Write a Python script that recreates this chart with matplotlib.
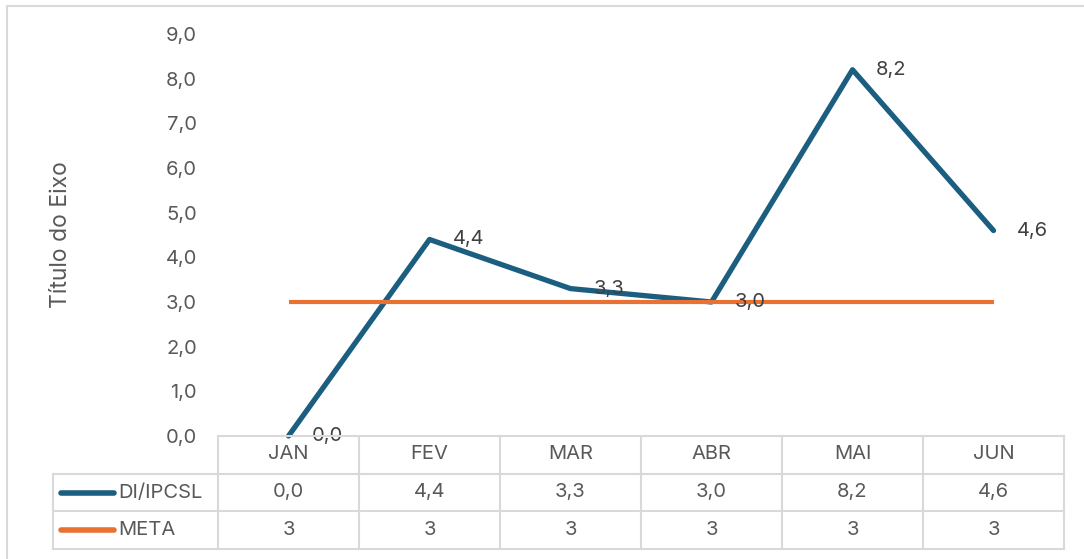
import matplotlib.pyplot as plt
from matplotlib.patches import Rectangle

plt.rcParams["font.family"] = ["Inter", "DejaVu Sans"]

months = ["JAN", "FEV", "MAR", "ABR", "MAI", "JUN"]
di_ipcsl = [0.0, 4.4, 3.3, 3.0, 8.2, 4.6]
meta = [3, 3, 3, 3, 3, 3]
series_names = ["DI/IPCSL", "META"]
y_ticks = [0, 1, 2, 3, 4, 5, 6, 7, 8, 9]

BLUE = "#1B5E80"
ORANGE = "#E97132"
TEXT = "#595959"
GRID = "#D9D9D9"
FS = 14.5

W, H = 1084, 559
fig = plt.figure(figsize=(W / 100, H / 100), dpi=100)


def px_axes(x0, y0, x1, y1):
    # pixel box (from top-left) -> figure axes
    return fig.add_axes([x0 / W, 1 - y1 / H, (x1 - x0) / W, (y1 - y0) / H])


# outer chart border (top + left visible)
fig.patches.append(Rectangle((7 / W, -0.1), 1.2, 1 - 6 / H + 0.1,
                             transform=fig.transFigure, fill=False,
                             edgecolor=GRID, linewidth=1.5))

ax = px_axes(218, 34, 1064, 436)
x = list(range(len(months)))
ax.plot(x, di_ipcsl, color=BLUE, linewidth=3.8, solid_capstyle="round",
        solid_joinstyle="round", clip_on=False, zorder=3)
ax.plot(x, meta, color=ORANGE, linewidth=3.0, solid_capstyle="butt",
        clip_on=False, zorder=4)
for xi, v in zip(x, di_ipcsl):
    ax.annotate(f"{v:.1f}".replace(".", ","), (xi, v), xytext=(17, 0),
                textcoords="offset points", ha="left", va="center",
                fontsize=FS, color="#404040", zorder=5, annotation_clip=False)

ax.set_xlim(-0.5, len(months) - 0.5)
ax.set_ylim(0, 9)
ax.set_yticks(y_ticks)
ax.set_yticklabels([f"{t:.1f}".replace(".", ",") for t in y_ticks])
ax.tick_params(axis="y", length=0, pad=15, labelsize=FS, labelcolor=TEXT)
ax.set_xticks([])
for s in ax.spines.values():
    s.set_visible(False)
ax.patch.set_alpha(0)
ax.set_ylabel("Título do Eixo", fontsize=16.5, color=TEXT)
ax.yaxis.set_label_coords(-0.172, 0.5)

# data table under the plot
tb = px_axes(53, 436, 1064, 549)
left = -0.5 - 165 / 141
tb.set_xlim(left, len(months) - 0.5)
tb.set_ylim(3, 0)
tb.axis("off")
lw = 1.5
# horizontal lines
tb.plot([-0.5, len(months) - 0.5], [0, 0], color=GRID, lw=lw, clip_on=False)
for r in [1, 2, 3]:
    tb.plot([left, len(months) - 0.5], [r, r], color=GRID, lw=lw, clip_on=False)
# vertical lines
for c in range(len(months) + 1):
    tb.plot([c - 0.5, c - 0.5], [0, 3], color=GRID, lw=lw, clip_on=False)
tb.plot([left, left], [1, 3], color=GRID, lw=lw, clip_on=False)

for i, m in enumerate(months):
    tb.text(i, 0.47, m, ha="center", va="center", fontsize=FS, color=TEXT)
    tb.text(i, 1.5, f"{di_ipcsl[i]:.1f}".replace(".", ","), ha="center",
            va="center", fontsize=FS, color=TEXT)
    tb.text(i, 2.5, f"{meta[i]}", ha="center", va="center", fontsize=FS,
            color=TEXT)

for r, (name, col) in enumerate(zip(series_names, [BLUE, ORANGE])):
    tb.plot([left + 0.055, left + 0.43], [r + 1.5, r + 1.5], color=col,
            lw=4, solid_capstyle="round", clip_on=False)
    tb.text(left + 0.46, r + 1.5, name, ha="left", va="center", fontsize=FS,
            color=TEXT)

fig.savefig("out.png", dpi=100)
